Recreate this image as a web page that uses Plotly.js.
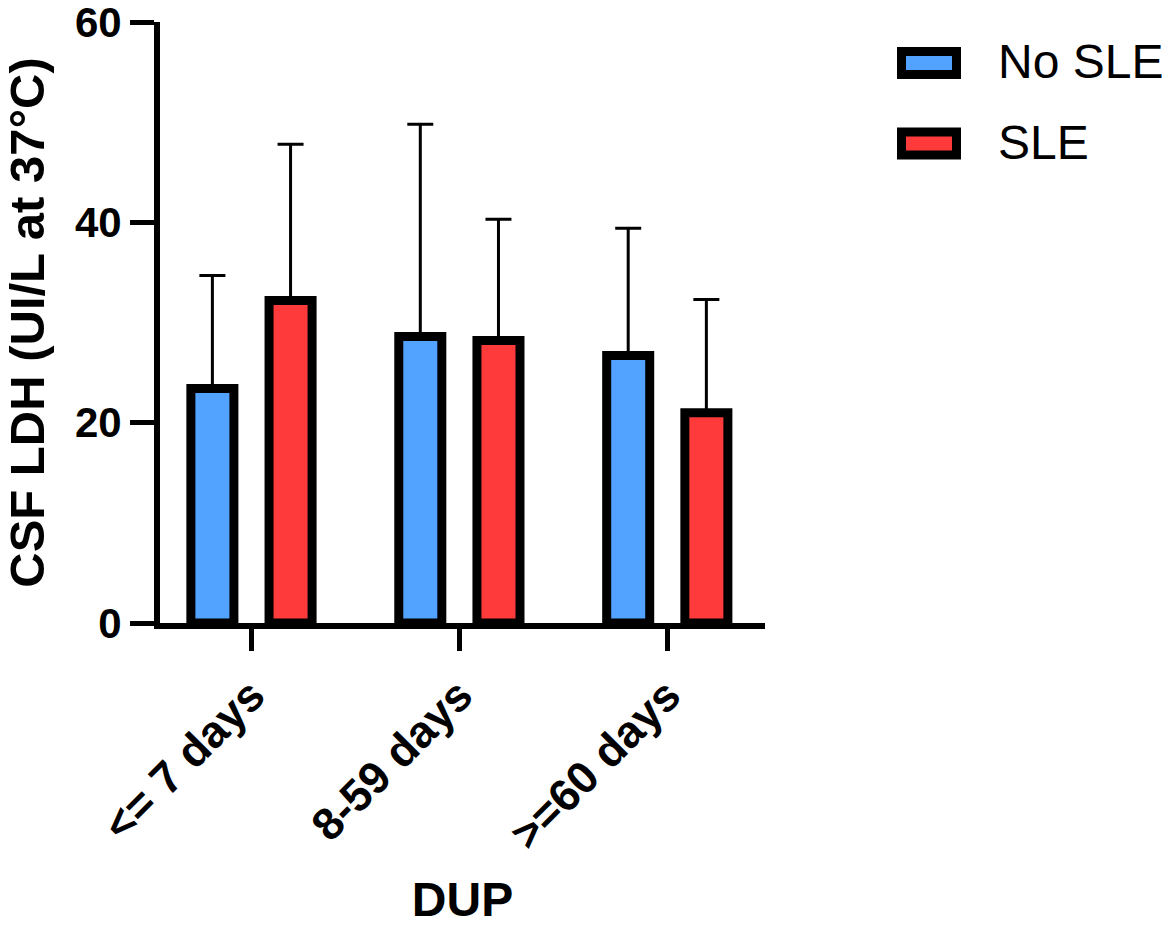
<!DOCTYPE html>
<html>
<head>
<meta charset="utf-8">
<script src="https://cdn.plot.ly/plotly-3.0.1.min.js"></script>
<style>
  html, body { margin: 0; padding: 0; background: #ffffff; }
  #chart { width: 1174px; height: 926px; }
</style>
</head>
<body>
<div id="chart"></div>
<script>
// ---- data ----
const categories = ['<= 7 days', '8-59 days', '>=60 days'];
const seriesNames = ['No SLE', 'SLE'];
const noSleMean = [23.4, 28.6, 26.7];
const noSleSD   = [11.3, 21.2, 12.7];
const sleMean   = [32.2, 28.2, 21.0];
const sleSD     = [15.6, 12.1, 11.3];
const yTicks = [0, 20, 40, 60];
const yTickLabels = ['0', '20', '40', '60'];
const xTitle = 'DUP';
const yTitle = 'CSF LDH (UI/L at 37°C)';
const colors = ['#52A2FF', '#FF3A3A'];

// ---- layout geometry (pixels) ----
const W = 1174, H = 926;
const L = 160, R = 765, T = 22, B = 623;
const FONT = 'Arial, "Liberation Sans", Helvetica, sans-serif';

const barW = 0.207;
const sep = 0.188;

function errTrace(name, means, sds, color, offset) {
  return {
    type: 'bar',
    name: name,
    x: categories,
    y: means,
    width: barW,
    offset: offset,
    marker: { color: color, line: { color: '#000000', width: 9 } },
    error_y: {
      type: 'data', symmetric: false,
      array: sds, arrayminus: sds.map(() => 0),
      color: '#000000', thickness: 3, width: 13
    },
    showlegend: false,
    hoverinfo: 'x+y'
  };
}

const traces = [
  errTrace(seriesNames[0], noSleMean, noSleSD, colors[0], -sep - barW / 2),
  errTrace(seriesNames[1], sleMean, sleSD, colors[1], sep - barW / 2)
];

// custom legend in paper coordinates
const px2x = p => (p - L) / (R - L);
const py2y = p => (B - p) / (B - T);
const legendRows = [63, 143.5];
const shapes = [];
const annotations = [];
seriesNames.forEach((nm, i) => {
  const cy = legendRows[i];
  shapes.push({
    type: 'rect', xref: 'paper', yref: 'paper',
    x0: px2x(901.5), x1: px2x(956.5),
    y0: py2y(cy - 11.5), y1: py2y(cy + 11.5),
    fillcolor: colors[i], line: { color: '#000000', width: 9 }
  });
  annotations.push({
    xref: 'paper', yref: 'paper',
    x: px2x(996), y: py2y(cy - 1.5),
    xanchor: 'left', yanchor: 'middle',
    text: nm, showarrow: false,
    font: { family: FONT, size: 48, color: '#000000' }
  });
});

const layout = {
  width: W, height: H,
  margin: { l: L, r: W - R, t: T, b: H - B, pad: 0 },
  paper_bgcolor: '#ffffff',
  plot_bgcolor: '#ffffff',
  showlegend: false,
  font: { family: FONT, color: '#000000' },
  xaxis: {
    type: 'category',
    range: [-0.44, 2.47],
    showline: true, linecolor: '#000000', linewidth: 6,
    ticks: 'outside', ticklen: 22, tickwidth: 5, tickcolor: '#000000',
    tickangle: -45,
    ticklabeloverflow: 'allow',
    tickfont: { family: FONT, size: 45, color: '#000000', weight: 'bold' },
    showgrid: false, zeroline: false,
    title: { text: '<b>' + xTitle + '</b>', font: { family: FONT, size: 48, color: '#000000' }, standoff: 32 },
    automargin: false
  },
  yaxis: {
    range: [0, 60],
    tickvals: yTicks, ticktext: yTickLabels,
    showline: true, linecolor: '#000000', linewidth: 6,
    ticks: 'outside', ticklen: 24, tickwidth: 5, tickcolor: '#000000',
    ticklabelstandoff: 0,
    ticklabeloverflow: 'allow',
    tickfont: { family: FONT, size: 42, color: '#000000', weight: 'bold' },
    showgrid: false, zeroline: false,
    title: { text: '<b>' + yTitle + '</b>', font: { family: FONT, size: 49, color: '#000000' }, standoff: 17 },
    automargin: false
  },
  shapes: shapes,
  annotations: annotations
};

Plotly.newPlot('chart', traces, layout, { displayModeBar: false, staticPlot: true });
</script>
</body>
</html>
